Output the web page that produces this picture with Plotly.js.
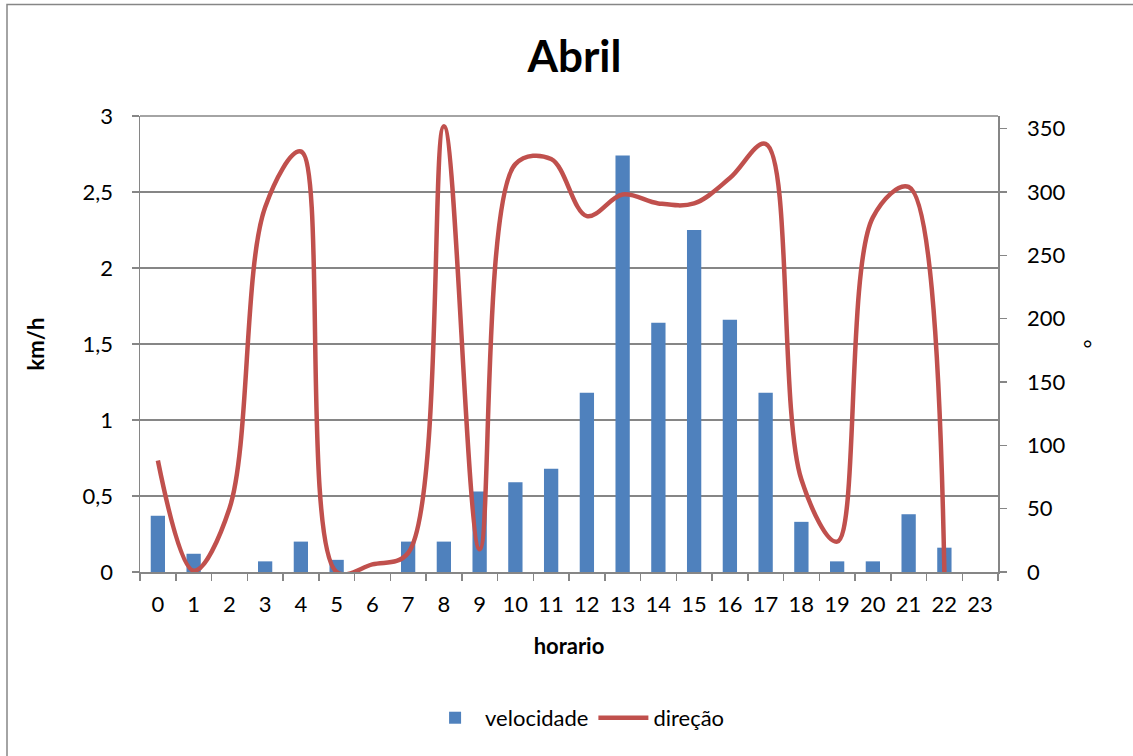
<!DOCTYPE html>
<html>
<head>
<meta charset="utf-8">
<script src="https://cdn.plot.ly/plotly-3.0.1.min.js"></script>
<style>html,body{margin:0;padding:0;background:#fff;}#chart{width:1133px;height:756px;}</style>
</head>
<body>
<div id="chart"></div>
<script>
const horas = ["0","1","2","3","4","5","6","7","8","9","10","11","12","13","14","15","16","17","18","19","20","21","22","23"];
const velocidade = [0.37,0.12,0,0.07,0.2,0.08,0,0.2,0.2,0.53,0.59,0.68,1.18,2.74,1.64,2.25,1.66,1.18,0.33,0.07,0.07,0.38,0.16,0];
const horasDirecao = ["0","1","2","3","4","5","6","7","8","9","10","11","12","13","14","15","16","17","18","19","20","21","22"];
const direcao = [88,1,50,288,332,0,6,15,352,18,322,326,281,298,291,291,311,338,73,24,280,304,0];

const font = "Lato, 'Open Sans', 'Liberation Sans', sans-serif";
const gray = "#868686";

const traces = [
  {type:"bar", x:horas, y:velocidade, name:"velocidade", marker:{color:"#4F81BD"}, yaxis:"y"},
  {type:"scatter", mode:"lines", x:horasDirecao, y:direcao, name:"direção", yaxis:"y2",
   line:{color:"#C0504D", width:4.5, shape:"spline", smoothing:1}}
];

const layout = {
  width:1133, height:756,
  margin:{l:140, r:135, t:116, b:184},
  paper_bgcolor:"#fff", plot_bgcolor:"#fff",
  separators:",.",
  font:{family:font, size:22, color:"#000"},
  title:{text:"<b>Abril</b>", font:{family:font, size:44, color:"#000"}, x:0.507, xanchor:"center", yref:"container", y:1-57/756, yanchor:"middle"},
  bargap:0.6,
  showlegend:true,
  legend:{orientation:"h", x:0.51, xanchor:"center", y:-0.32, yanchor:"middle", font:{family:font, size:22}, traceorder:"normal", itemwidth:50},
  xaxis:{type:"category", range:[-0.5,23.5], tickson:"boundaries", ticks:"outside", ticklen:7, tickcolor:gray, tickwidth:1.5,
    showline:true, linecolor:gray, linewidth:1.5, showgrid:false, zeroline:false,
    tickfont:{family:font, size:22}, ticklabelstandoff:12,
    title:{text:"<b>horario</b>", font:{family:font, size:22}, standoff:22}},
  yaxis:{range:[0,3], dtick:0.5, tick0:0, ticks:"outside", ticklen:7, tickcolor:gray, tickwidth:1.5,
    showline:true, linecolor:gray, linewidth:1.5, showgrid:true, gridcolor:gray, gridwidth:1.5, zeroline:false,
    tickfont:{family:font, size:22}, tickformat:".1~f", ticklabelstandoff:14,
    title:{text:"<b>km/h</b>", font:{family:font, size:22}, standoff:32}},
  yaxis2:{overlaying:"y", side:"right", range:[0,360], dtick:50, tick0:0, ticks:"outside", ticklen:7, tickcolor:gray, tickwidth:1.5,
    showline:true, linecolor:gray, linewidth:1.5, showgrid:false, zeroline:false,
    tickfont:{family:font, size:22}, ticklabelstandoff:16,
    title:{text:"°", font:{family:font, size:22}, standoff:20}},
  shapes:[
    {type:"rect", xref:"paper", yref:"paper", x0:(7-140)/858, x1:(1140-140)/858, y0:(572-770)/456, y1:(572-4.5)/456,
     line:{color:gray, width:1.5}, fillcolor:"rgba(0,0,0,0)", layer:"below"},
    {type:"line", xref:"paper", yref:"paper", x0:0, x1:1, y0:1, y1:1, line:{color:gray, width:1.5}}
  ]
};

Plotly.newPlot("chart", traces, layout, {displayModeBar:false, staticPlot:true});
</script>
</body>
</html>
